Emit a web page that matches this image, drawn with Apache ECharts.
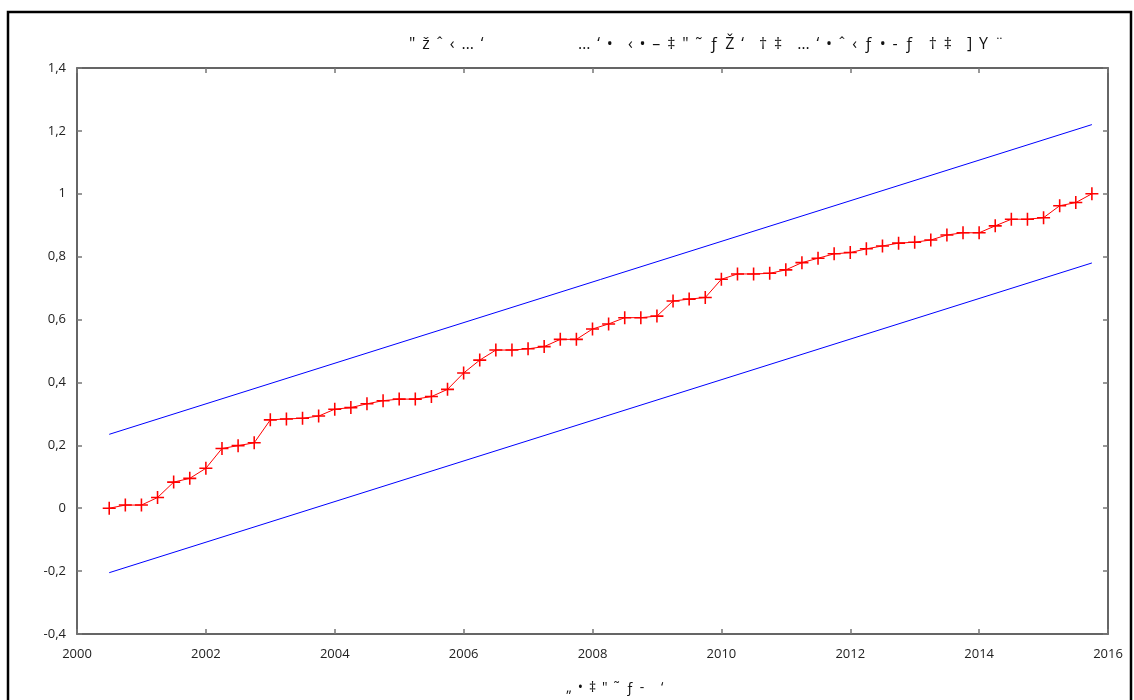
<!DOCTYPE html>
<html>
<head>
<meta charset="utf-8">
<script src="https://cdn.jsdelivr.net/npm/echarts@6/dist/echarts.min.js"></script>
<style>html,body{margin:0;padding:0;background:#fff}#c{width:1134px;height:700px}</style>
</head>
<body>
<div id="c"></div>
<script>
const titleLeft = '" \u2009ž \u2009ˆ \u2009‹ \u2009… \u2009‘';
const titleRight = '… \u2009‘ \u2009•   \u2009‹ \u2009• \u2009– \u2009‡ \u2009" \u2009˜ \u2009ƒ \u2009Ž \u2009‘   \u2009† \u2009‡   \u2009… \u2009‘ \u2009• \u2009ˆ \u2009‹ \u2009ƒ \u2009• \u2009- \u2009ƒ   \u2009† \u2009‡   \u2009] \u2009Y \u2009¨';
const xName = '„ \u2009• \u2009‡ \u2009" \u2009˜ \u2009ƒ \u2009-    \u2009‘';

const times = [2000.5,2000.75,2001,2001.25,2001.5,2001.75,2002,2002.25,2002.5,2002.75,
  2003,2003.25,2003.5,2003.75,2004,2004.25,2004.5,2004.75,2005,2005.25,
  2005.5,2005.75,2006,2006.25,2006.5,2006.75,2007,2007.25,2007.5,2007.75,
  2008,2008.25,2008.5,2008.75,2009,2009.25,2009.5,2009.75,2010,2010.25,
  2010.5,2010.75,2011,2011.25,2011.5,2011.75,2012,2012.25,2012.5,2012.75,
  2013,2013.25,2013.5,2013.75,2014,2014.25,2014.5,2014.75,2015,2015.25,
  2015.5,2015.75];
const values = [0.000,0.010,0.010,0.034,0.083,0.095,0.127,0.190,0.199,0.208,
  0.281,0.284,0.286,0.293,0.315,0.320,0.332,0.342,0.347,0.347,
  0.355,0.378,0.430,0.471,0.503,0.503,0.507,0.514,0.537,0.537,
  0.570,0.586,0.606,0.606,0.611,0.659,0.665,0.670,0.728,0.745,
  0.745,0.747,0.758,0.781,0.795,0.809,0.813,0.825,0.834,0.843,
  0.846,0.853,0.869,0.876,0.876,0.898,0.919,0.919,0.924,0.962,
  0.972,1.000];
const upperX = [2000.5, 2015.75];
const upperY = [0.235, 1.22];
const lowerX = [2000.5, 2015.75];
const lowerY = [-0.205, 0.78];

const fontFam = 'Open Sans, DejaVu Sans, sans-serif';
const chart = echarts.init(document.getElementById('c'));
const fmtY = v => {
  const r = Math.round(v * 10) / 10;
  return String(r).replace('.', ',');
};
const axisLine = {show: true, onZero: false, lineStyle: {color: '#333', width: 1.5}};
const axisTick = {show: true, inside: true, length: 5, lineStyle: {color: '#777', width: 1.5}};
const tStyle = {fontFamily: fontFam, fontSize: 16, fontWeight: 'normal', color: '#111'};
const nStyle = {fontFamily: fontFam, fontSize: 14, fontWeight: 'normal', color: '#111'};
chart.setOption({
  animation: false,
  backgroundColor: '#fff',
  title: [
    {text: titleLeft, left: 404, top: 31, textStyle: tStyle},
    {text: titleRight, left: 573, top: 31, textStyle: tStyle},
    {text: xName, left: 561, top: 676, textStyle: nStyle}
  ],
  graphic: [{
    type: 'rect', shape: {x: 8, y: 12, width: 1123, height: 720},
    style: {fill: 'none', stroke: '#000', lineWidth: 2.5}, silent: true
  }],
  grid: {left: 77, top: 68, right: 26, bottom: 66, containLabel: false},
  xAxis: [
    {type: 'value', position: 'bottom', min: 2000, max: 2016, interval: 2,
     axisLine: axisLine, axisTick: axisTick, splitLine: {show: false},
     axisLabel: {margin: 14, color: '#222', fontSize: 13, fontFamily: fontFam, formatter: v => String(v)}},
    {type: 'value', position: 'top', min: 2000, max: 2016, interval: 2,
     axisLine: axisLine, axisTick: axisTick, splitLine: {show: false}, axisLabel: {show: false}}
  ],
  yAxis: [
    {type: 'value', position: 'left', min: -0.4, max: 1.4, interval: 0.2,
     axisLine: axisLine, axisTick: axisTick, splitLine: {show: false},
     axisLabel: {margin: 11, color: '#222', fontSize: 13, fontFamily: fontFam, formatter: fmtY}},
    {type: 'value', position: 'right', min: -0.4, max: 1.4, interval: 0.2,
     axisLine: axisLine, axisTick: axisTick, splitLine: {show: false}, axisLabel: {show: false}}
  ],
  series: [
    {type: 'line', data: upperX.map((x, i) => [x, upperY[i]]), showSymbol: false, symbol: 'none',
     lineStyle: {color: '#0000ff', width: 1}, z: 2},
    {type: 'line', data: lowerX.map((x, i) => [x, lowerY[i]]), showSymbol: false, symbol: 'none',
     lineStyle: {color: '#0000ff', width: 1}, z: 2},
    {type: 'line', data: times.map((t, i) => [t, values[i]]),
     symbol: 'path://M4.4,0H5.6V4.4H10V5.6H5.6V10H4.4V5.6H0V4.4H4.4Z', symbolSize: 13,
     itemStyle: {color: '#ff0000', borderWidth: 0},
     lineStyle: {color: '#ff0000', width: 1}, z: 3}
  ]
});
</script>
</body>
</html>
